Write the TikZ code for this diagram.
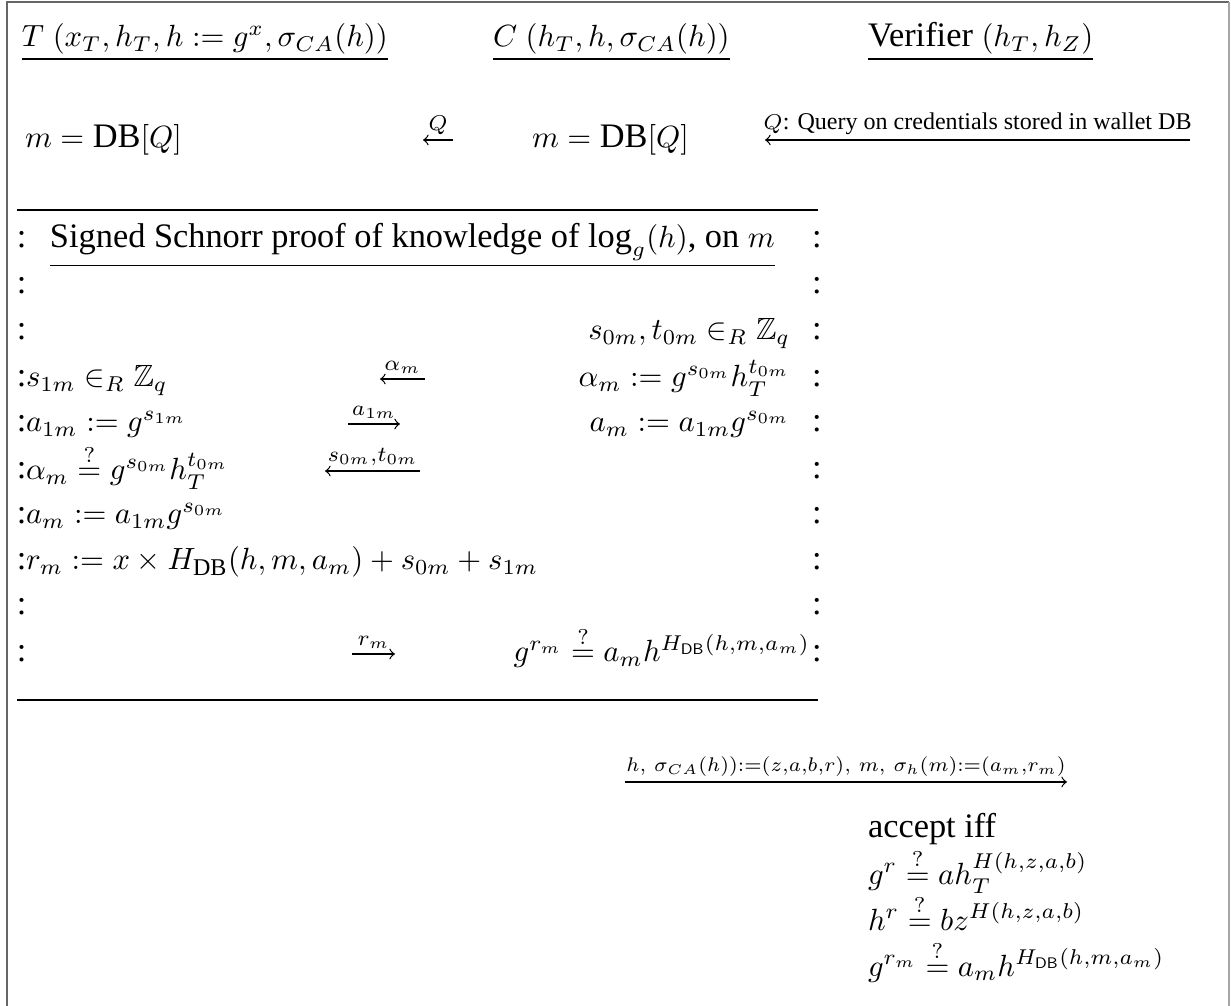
\documentclass[tikz,border=0pt]{standalone}
\usepackage{amssymb}
\usepackage{fontspec}
\setmainfont{Liberation Serif}[Scale=1.12]
\begin{document}
\begin{tikzpicture}[x=0.326pt,y=-0.326pt,>=to,
  txt/.style={inner sep=0pt, outer sep=0pt},
  lt/.style={txt, anchor=base west},
  rt/.style={txt, anchor=base east},
  colon/.style={txt, anchor=base west},
  msg/.style={->, line width=0.4pt},
  lab/.style={above, inner sep=1.5pt},
  rulel/.style={line width=0.45pt},
  framel/.style={line width=0.7pt, draw=black!60}]
\useasboundingbox (0,0) rectangle (1231,1006);
% frame
\coordinate (f1) at (7,1006); \coordinate (f2) at (7,2);
\coordinate (f3) at (1229,2); \coordinate (f4) at (1229,1006);
\draw[framel] (f1) -- (f2) -- (f3);
\draw[line width=0.5pt, draw=black!35] (f3) -- (f4);
% headers
\node[lt] (hT) at (22,47) {$\underline{T\ (x_T, h_T, h := g^x, \sigma_{CA}(h))}$};
\node[lt] (hC) at (493,47) {$\underline{C\ (h_T, h, \sigma_{CA}(h))}$};
\node[lt] (hV) at (868,47) {\underline{Verifier $(h_T, h_Z)$}};
% query row
\node[lt] (mT) at (25,148) {$m = \mathrm{DB}[Q]$};
\node[lt] (mC) at (532,148) {$m = \mathrm{DB}[Q]$};
\coordinate (q1) at (453,140); \coordinate (q2) at (423,140);
\draw[msg] (q1) -- node[lab]{$\scriptstyle Q$} (q2);
\coordinate (v1) at (1190,140); \coordinate (v2) at (765,140);
\draw[msg] (v1) -- node[lab]{\scriptsize $Q$: Query on credentials stored in wallet DB} (v2);
% box
\coordinate (b1) at (17,210); \coordinate (b2) at (818,210);
\coordinate (b3) at (17,700); \coordinate (b4) at (818,700);
\draw[rulel] (b1) -- (b2);
\draw[rulel] (b3) -- (b4);
\foreach \i/\y in {1/248,2/294,3/340,4/387,5/432,6/479,7/524,8/570,9/615,10/662}{
  \node[colon] (lc\i) at (17,\y) {:};
  \node[colon] (rc\i) at (812,\y) {:};
}
\node[lt] (title) at (50,248) {\underline{Signed Schnorr proof of knowledge of $\log_g(h)$, on $m$}};
\node[rt] (r3) at (790,340) {$s_{0m}, t_{0m} \in_R \mathbb{Z}_q$};
\node[lt] (l4) at (26,387) {$s_{1m} \in_R \mathbb{Z}_q$};
\node[rt] (r4) at (790,387) {$\alpha_m := g^{s_{0m}} h_T^{t_{0m}}$};
\node[lt] (l5) at (26,432) {$a_{1m} := g^{s_{1m}}$};
\node[rt] (r5) at (790,432) {$a_m := a_{1m} g^{s_{0m}}$};
\node[lt] (l6) at (26,480) {$\alpha_m \stackrel{?}{=} g^{s_{0m}} h_T^{t_{0m}}$};
\node[lt] (l7) at (26,524) {$a_m := a_{1m} g^{s_{0m}}$};
\node[lt] (l8) at (26,570) {$r_m := x \times H_{\mathrm{DB}}(h, m, a_m) + s_{0m} + s_{1m}$};
\node[rt] (r10) at (810,662) {$g^{r_m} \stackrel{?}{=} a_m h^{H_{\mathsf{DB}}(h,m,a_m)}$};
% box messages
\coordinate (a4s) at (425,379); \coordinate (a4e) at (380,379);
\draw[msg] (a4s) -- node[lab]{$\scriptstyle \alpha_m$} (a4e);
\coordinate (a5s) at (348,424); \coordinate (a5e) at (400,424);
\draw[msg] (a5s) -- node[lab]{$\scriptstyle a_{1m}$} (a5e);
\coordinate (a6s) at (420,471); \coordinate (a6e) at (325,471);
\draw[msg] (a6s) -- node[lab]{$\scriptstyle s_{0m},t_{0m}$} (a6e);
\coordinate (a10s) at (352,654); \coordinate (a10e) at (395,654);
\draw[msg] (a10s) -- node[lab]{$\scriptstyle r_m$} (a10e);
% final message
\coordinate (fs) at (625,782); \coordinate (fe) at (1067,782);
\draw[msg] (fs) -- node[lab]{\scalebox{0.92}{$\scriptstyle h,\ \sigma_{CA}(h)):=(z,a,b,r),\ m,\ \sigma_h(m):=(a_m,r_m)$}} (fe);
% verifier checks
\node[lt] (acc) at (868,838) {accept iff};
\node[lt] (c1) at (868,884) {$g^r \stackrel{?}{=} a h_T^{H(h,z,a,b)}$};
\node[lt] (c2) at (868,930) {$h^r \stackrel{?}{=} b z^{H(h,z,a,b)}$};
\node[lt] (c3) at (868,976) {$g^{r_m} \stackrel{?}{=} a_m h^{H_{\mathsf{DB}}(h,m,a_m)}$};
\end{tikzpicture}
\end{document}
